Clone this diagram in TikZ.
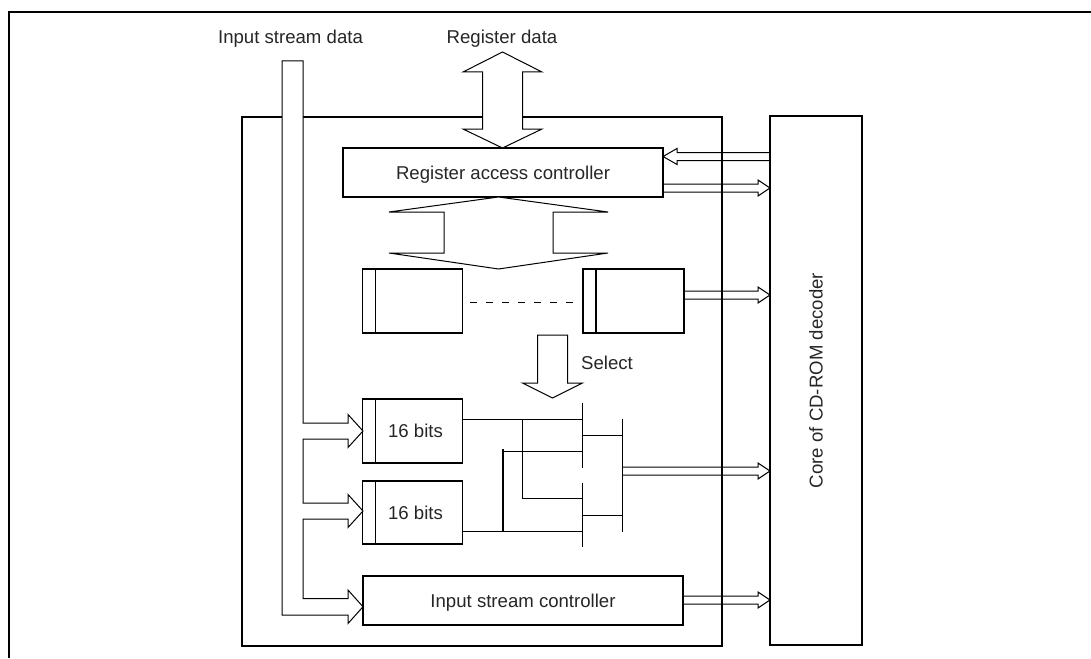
\documentclass[tikz,border=0pt]{standalone}
\usepackage{fontspec}
\setmainfont{Liberation Sans}
\usetikzlibrary{calc}
\newcommand\rarrowdraw[3]{\draw[thinl] (#1,#3-4) -- (#2-12,#3-4) -- (#2-12,#3-8) -- (#2,#3) -- (#2-12,#3+8) -- (#2-12,#3+4) -- (#1,#3+4);}
\begin{document}
\begin{tikzpicture}[x=1pt,y=-1pt,
  lbl/.style={font=\fontsize{18.6}{22}\selectfont, inner sep=0pt, text=black!85},
  blk/.style={draw, line width=1.9pt, inner sep=0pt, font=\fontsize{18.6}{22}\selectfont, text=black!85, text height=13.3pt, text depth=0pt},
  regbox/.style={blk, path picture={\draw[line width=1.9pt] ([xshift=13pt]path picture bounding box.north west) -- ([xshift=13pt]path picture bounding box.south west);}},
  thinl/.style={line width=1pt},
  hollow/.style={line width=1pt, fill=white},
  busbar/.style={line width=1.2pt},
]
\useasboundingbox (0,0) rectangle (1091,658);
% frame
\draw[line width=2.2pt] (9,658) -- (9,12) -- (1091,12);
% main boxes
\node[draw, line width=1.6pt, minimum width=480pt, minimum height=529pt, inner sep=0pt] (inner) at (482,381.5) {};
\node[blk, minimum width=92pt, minimum height=529pt] (core) at (816,380.5) {};
\node[lbl, rotate=90] (coretxt) at (core.center) {Core of CD-ROM decoder};
\node[blk, minimum width=320pt, minimum height=49pt] (rac) at (503,172.5) {Register access controller};
\node[blk, minimum width=320pt, minimum height=49pt] (isc) at (523,600.5) {Input stream controller};
\node[regbox, minimum width=100pt, minimum height=64pt] (regA) at (412.5,301) {};
\node[regbox, minimum width=101pt, minimum height=64pt] (regB) at (633.5,301) {};
\node[regbox, minimum width=100pt, minimum height=64pt] (bitA) at (412.5,431) {\hspace*{6pt}16 bits};
\node[regbox, minimum width=100pt, minimum height=63pt] (bitB) at (412.5,512.5) {\hspace*{6pt}16 bits};
% labels
\node[lbl, anchor=base] (isd) at (290.5,44) {Input stream data};
\node[lbl, anchor=base] (rd) at (502,44) {Register data};
\node[lbl, anchor=base west] (sel) at (581,369) {Select};
% register data double arrow
\draw[hollow] (502.5,52) -- (542,72) -- (522.5,72) -- (522.5,129) -- (542,129) -- (502.5,148) -- (463,129) -- (482.5,129) -- (482.5,72) -- (463,72) -- cycle;
% input stream bus
\draw[hollow] (303,61) -- (303,423) -- (348,423) -- (348,414.5) -- (363,431) -- (348,447.5) -- (348,439) -- (303,439)
  -- (303,503) -- (348,503) -- (348,494.5) -- (363,511) -- (348,527.5) -- (348,519) -- (303,519)
  -- (303,598.5) -- (348,598.5) -- (348,590) -- (363,606.75) -- (348,623.5) -- (348,615) -- (282,615) -- (282,61) -- cycle;
% fan-out double arrow
\draw[hollow] (498.5,197) -- (608,212) -- (553,212) -- (553,253) -- (608,253) -- (498.5,269) -- (389,253) -- (444,253) -- (444,212) -- (389,212) -- cycle;
% dashed
\draw[thinl, dash pattern=on 7pt off 9pt] (470,302) -- (575,302);
% select arrow
\draw[hollow] (537.5,335) -- (567.5,335) -- (567.5,383) -- (582.5,383) -- (552.5,398) -- (522.5,383) -- (537.5,383) -- cycle;
% mux
\coordinate (m1t) at (582.5,402.5); \coordinate (m1b) at (582.5,467.5);
\coordinate (m2t) at (582.5,482.5); \coordinate (m2b) at (582.5,546.5);
\coordinate (mrt) at (622.5,418.5); \coordinate (mrb) at (622.5,531.5);
\draw[busbar] (m1t) -- (m1b);
\draw[busbar] (m2t) -- (m2b);
\draw[busbar] (mrt) -- (mrb);
\draw[thinl] (582.5,435) -- (622.5,435);
\draw[thinl] (582.5,515) -- (622.5,515);
\draw[thinl] (bitA.east |- 0,419) -- (582.5,419);
\draw[thinl] (522.5,419) -- (522.5,498.5) -- (582.5,498.5);
\draw[line width=2pt] (502.5,449) -- (502.5,531.5);
\draw[thinl] (502.5,451) -- (582.5,451);
\draw[thinl] (bitB.east |- 0,531.5) -- (582.5,531.5);
% right-side arrows
\draw[thinl] (770,152.5) -- (677,152.5) -- (677,148.5) -- (663,156.5) -- (677,164.5) -- (677,160.5) -- (770,160.5);
\rarrowdraw{663}{770}{188}
\rarrowdraw{684}{770}{295}
\rarrowdraw{622.5}{770}{471}
\rarrowdraw{683}{770}{600}
\end{tikzpicture}
\end{document}
